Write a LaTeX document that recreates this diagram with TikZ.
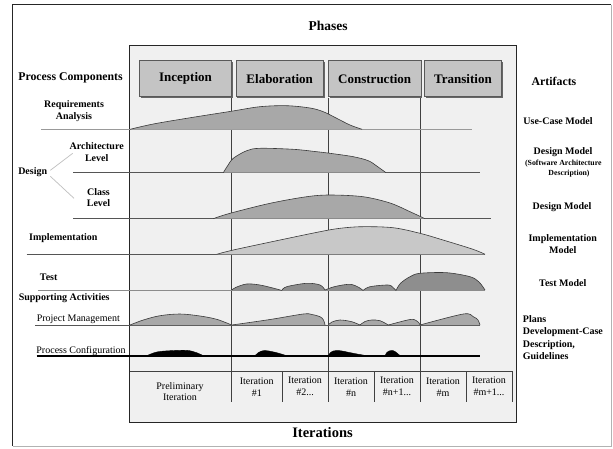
\documentclass[tikz,border=0pt]{standalone}
\usepackage{fontspec}
\setmainfont{Liberation Serif}

\definecolor{panelgray}{HTML}{F0F0F0}
\definecolor{boxgray}{HTML}{C4C4C4}
\definecolor{humpmid}{HTML}{A8A8A8}
\definecolor{humplight}{HTML}{C8C8C8}
\definecolor{humpdark}{HTML}{8E8E8E}
\definecolor{edgegray}{HTML}{3A3A3A}
\definecolor{rulegray}{HTML}{555555}

\tikzset{
  lbl/.style={font=\bfseries\fontsize{10}{11.6}\selectfont, align=center, inner sep=0pt},
  biglbl/.style={font=\bfseries\fontsize{11.8}{13}\selectfont, inner sep=0pt},
  plainlbl/.style={font=\fontsize{10}{11.6}\selectfont, align=center, inner sep=0pt},
  phasebox/.style={fill=boxgray, draw=black!65, line width=0.6pt},
  phaseshadow/.style={fill=black!60},
  phaselbl/.style={font=\bfseries\fontsize{13}{14}\selectfont, inner sep=0pt},
  titlelbl/.style={font=\bfseries\fontsize{13.5}{15}\selectfont, inner sep=0pt},
  baseline/.style={draw=rulegray, line width=0.7pt},
  divider/.style={draw=black!75, line width=0.7pt},
  humpedge/.style={draw=edgegray, line width=0.6pt},
  branch/.style={draw=black!25, line width=0.7pt},
}

% a workload hump: filled area under a smooth curve, outlined on top only
\newcommand\workhump[3]{%
  \fill[#1] plot[smooth,tension=0.55] coordinates {#3} -- cycle;
  \draw[#2] plot[smooth,tension=0.55] coordinates {#3};}

\begin{document}
\begin{tikzpicture}[x=1pt,y=-1pt]
\useasboundingbox (0,0) rectangle (613,448);
\fill[white] (0,0) rectangle (613,448);

% outer frame
\draw[black!85, line width=0.8pt] (12.5,446) -- (12.5,4.5) -- (611,4.5);
\draw[black!30, line width=0.8pt] (611,4.5) -- (611,446) -- (12.5,446);

% central panel
\draw[fill=panelgray, draw=black!85, line width=0.8pt] (129.5,45.5) rectangle (516.5,422.5);

% phase boxes
\foreach \xa/\xb in {139.3/231.7, 236/323.3, 328.3/421, 424.3/501.7}{
  \fill[phaseshadow] (\xa+1.2,61.9) rectangle (\xb+1.2,97.9);
  \draw[phasebox] (\xa,60.7) rectangle (\xb,96.7);
}
\node[phaselbl] (inception)    at (185.5,78.7) {Inception};
\node[phaselbl] (elaboration)  at (279.7,78.7) {Elaboration};
\node[phaselbl] (construction) at (374.7,78.7) {Construction};
\node[phaselbl] (transition)   at (463,78.7)   {Transition};

% phase dividers
\foreach \x in {231.7,328.3,420}{
  \draw[divider] (\x,97.9) -- (\x,402);
}

% iteration table
\draw[divider] (129.5,371) -- (512,371);
\foreach \x in {282,374,466,512}{
  \draw[divider] (\x,371) -- (\x,402);
}

% activity baselines
\draw[baseline, draw=black!40] (41,129.3) -- (471.7,129.3);
\draw[baseline] (73.3,172.7) -- (480,172.7);
\draw[baseline] (73.3,218.7) -- (490.7,218.7);
\draw[baseline] (26.7,254.3) -- (485,254.3);
\draw[baseline, draw=black!45] (38.3,290) -- (485,290);
\draw[baseline] (35,325) -- (480,325);

% requirements analysis
\workhump{humpmid}{humpedge}{(130,129.3) (153.3,124) (186.7,118.3) (231,111.3) (260,106.7) (286.7,105.7) (310,108) (323.3,111.7) (336.7,118.3) (350,125) (362,129.3)}

% architecture level
\workhump{humpmid}{humpedge}{(223.3,172.7) (227.5,166) (233.3,158.3) (246.7,150.7) (260,148.3) (293.3,149.3) (316.7,151.7) (330,153.3) (353.3,156.7) (368.3,160.7) (376.7,166) (386,172.7)}

% class level
\workhump{humpmid}{humpedge}{(213.3,218.7) (230,213.3) (270,203.3) (306.7,196.7) (330,195) (363,196.7) (390,203) (410,211.7) (425,218.7)}

% implementation
\workhump{humplight}{humpedge}{(216.7,254.3) (233.3,250) (280,240) (320,231.7) (340,228.3) (362,226.7) (393,227.7) (420,233.3) (443,240) (473,249.3) (485,254.3)}

% test
\workhump{humpdark}{humpedge}{(231.7,290) (236,287.3) (246.7,284) (260,285) (276.7,289) (281.7,290.5)}
\workhump{humpdark}{humpedge}{(281.7,290.5) (286.7,286.7) (306.7,283.3) (320,285) (325,290)}
\workhump{humpdark}{humpedge}{(325,290) (335,286.5) (350,284.3) (359,287.5) (363,290.5)}
\workhump{humpdark}{humpedge}{(363,290.5) (370,286.7) (388,285) (393,287.5) (396,290.5)}
\workhump{humpdark}{humpedge}{(396,290.5) (400.5,283.3) (410,276.7) (420,273.3) (446.7,272.7) (470,276.7) (479,282) (485,290)}

% project management
\workhump{humpmid}{humpedge}{(130,325) (143.3,320) (160,315.7) (180,314) (200,316) (216.7,319.3) (231.7,325)}
\workhump{humpmid}{humpedge}{(231.7,325) (270,319.5) (303.3,314) (312,314.5) (320,316.7) (323.5,320) (325,325)}
\workhump{humpmid}{humpedge}{(328.3,325) (332,322) (340,320) (351.7,321.7) (360,325)}
\workhump{humpmid}{humpedge}{(360,325) (365,321.5) (371.7,320) (380,320.7) (388.3,325)}
\workhump{humpmid}{humpedge}{(388.3,325) (410,319.5) (416,320.5) (419,323) (420,325)}
\workhump{humpmid}{humpedge}{(420,325) (463.3,314) (473.3,316.7) (478,320) (480,325)}

% process configuration
\draw[black, line width=2pt] (36.7,355.7) -- (480,355.7);
\workhump{black}{black}{(146.7,355.7) (156.7,352) (170,350.7) (186.7,350.3) (196.7,352.7) (203.3,355.7)}
\workhump{black}{black}{(255,355.7) (258.5,352.5) (261.7,351) (266.7,350.7) (276,352.5) (286.7,355.7)}
\workhump{black}{black}{(328.3,355.7) (330.5,352.5) (333.3,351) (340,350.7) (353.3,353.3) (366.7,355.7)}
\workhump{black}{black}{(385,355.7) (386.8,352.5) (389,351) (393.3,350.7) (397,353) (400,355.7)}

% titles
\node[titlelbl] (phases) at (328,26) {Phases};
\node[titlelbl, font=\bfseries\fontsize{14.5}{16}\selectfont] (iterations) at (322.5,433) {Iterations};

% process components
\node[biglbl] (components) at (70.5,77.7) {Process Components};
\node[lbl] (reqs)   at (74,111)    {Requirements\\Analysis};
\node[lbl] (arch)   at (96.7,152.2) {Architecture\\Level};
\node[lbl] (design) at (32.7,172.3) {Design};
\node[lbl] (class)  at (98.5,197.5) {Class\\Level};
\node[lbl] (impl)   at (63.3,238.3) {Implementation};
\node[lbl] (test)   at (48.7,277.7) {Test};
\node[lbl] (support) at (64.2,298.3) {Supporting Activities};
\node[plainlbl] (pm)  at (78.3,319.3) {Project Management};
\node[plainlbl] (cfg) at (81,350.7)   {Process Configuration};

% design branches
\coordinate (archfoot) at (72.7,153.3);
\coordinate (classfoot) at (74,198.3);
\draw[branch] (design.east) ++(3,-2) -- (archfoot);
\draw[branch] (design.east) ++(3,4) -- (classfoot);

% artifacts
\node[biglbl] (artifacts) at (554,81) {Artifacts};
\node[lbl] (usecase) at (558,120.7) {Use-Case Model};
\node[lbl] (dmodel1) at (563,151.7) {Design Model};
\node[lbl, font=\bfseries\fontsize{7.8}{9}\selectfont] (sad) at (563.3,163.3) {(Software Architecture};
\node[lbl, font=\bfseries\fontsize{7.8}{9}\selectfont] (sadesc) at (569,173.3) {Description)};
\node[lbl] (dmodel2) at (562,206.7) {Design Model};
\node[lbl, font=\bfseries\fontsize{10}{11.7}\selectfont] (implmodel) at (562.7,244.2) {Implementation\\Model};
\node[lbl] (testmodel) at (562.8,283.3) {Test Model};
\node[lbl, align=left, anchor=north west, font=\bfseries\fontsize{10}{12.3}\selectfont] (plans) at (522.7,315.3)
  {Plans\\Development-Case\\Description,\\Guidelines};

% iteration labels
\node[plainlbl, font=\fontsize{10}{11.3}\selectfont] (it0) at (180,391.7) {Preliminary\\Iteration};
\node[plainlbl, font=\fontsize{10}{12}\selectfont] (it1)  at (256.8,386.7) {Iteration\\\#1};
\node[plainlbl, font=\fontsize{10}{12}\selectfont] (it2)  at (305,386.7)   {Iteration\\\#2...};
\node[plainlbl, font=\fontsize{10}{12}\selectfont] (itn)  at (351,386.7)   {Iteration\\\#n};
\node[plainlbl, font=\fontsize{10}{12}\selectfont] (itn1) at (397,386.7)   {Iteration\\\#n+1...};
\node[plainlbl, font=\fontsize{10}{12}\selectfont] (itm)  at (443,386.7)   {Iteration\\\#m};
\node[plainlbl, font=\fontsize{10}{12}\selectfont] (itm1) at (489,386.7)   {Iteration\\\#m+1...};
\end{tikzpicture}
\end{document}
